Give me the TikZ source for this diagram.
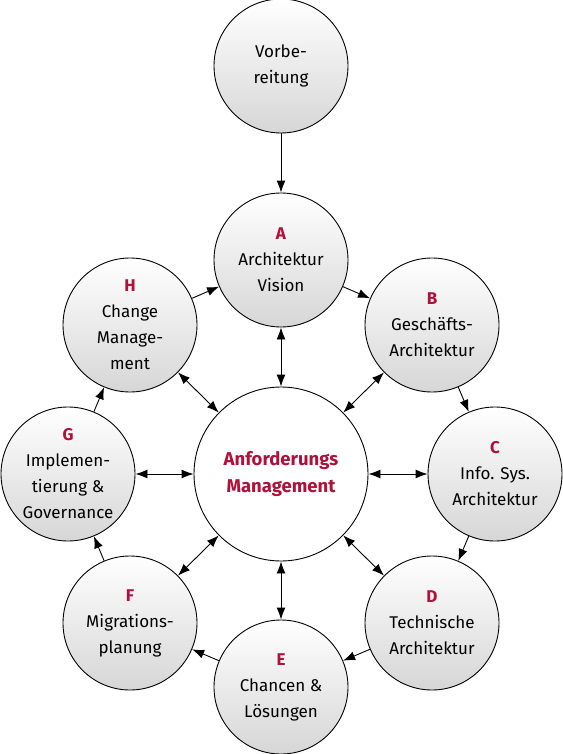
\documentclass[tikz,border=0pt]{standalone}
\usepackage{fontspec}
\setmainfont{Fira Sans}
\usetikzlibrary{arrows.meta}
\definecolor{crim}{HTML}{B0103A}
\tikzset{
  phase/.style={circle, draw=black, line width=0.9pt, minimum size=134pt, inner sep=0pt,
    top color=white, bottom color=black!16, align=center, font=\fontsize{17}{26}\selectfont},
  core/.style={circle, draw=black, line width=0.9pt, minimum size=174pt, inner sep=0pt,
    fill=white, align=center, font=\fontsize{18.5}{27}\selectfont\bfseries, text=crim},
  flow/.style={line width=0.9pt, -{Latex[length=12pt,width=9pt]}},
  both/.style={line width=0.9pt, {Latex[length=12pt,width=9pt]}-{Latex[length=12pt,width=9pt]}},
}
\newcommand{\ltr}[1]{{\bfseries\color{crim}#1}}
\begin{document}
\begin{tikzpicture}[x=1pt,y=-1pt]
\useasboundingbox (0,0) rectangle (562,754);
\node[core] (M) at (281,474) {Anforderungs\\Management};
\node[phase] (V) at (281,66) {Vorbe-\\reitung};
\node[phase] (A) at (281,260) {\ltr{A}\\Architektur\\Vision};
\node[phase] (B) at (432,325) {\ltr{B}\\Geschäfts-\\Architektur};
\node[phase] (C) at (495,474) {\ltr{C}\\Info. Sys.\\Architektur};
\node[phase] (D) at (432,623) {\ltr{D}\\Technische\\Architektur};
\node[phase] (E) at (281,687) {\ltr{E}\\Chancen \&\\Lösungen};
\node[phase] (F) at (130,623) {\ltr{F}\\Migrations-\\planung};
\node[phase] (G) at (68,474) {\ltr{G}\\Implemen-\\tierung \&\\Governance};
\node[phase] (H) at (130,325) {\ltr{H}\\Change\\Manage-\\ment};
\draw[flow] (V) -- (A);
\draw[flow] (A) -- (B);
\draw[flow] (B) -- (C);
\draw[flow] (C) -- (D);
\draw[flow] (D) -- (E);
\draw[flow] (E) -- (F);
\draw[flow] (F) -- (G);
\draw[flow] (G) -- (H);
\draw[flow] (H) -- (A);
\foreach \n in {A,B,C,D,E,F,G,H} { \draw[both] (M) -- (\n); }
\end{tikzpicture}
\end{document}
